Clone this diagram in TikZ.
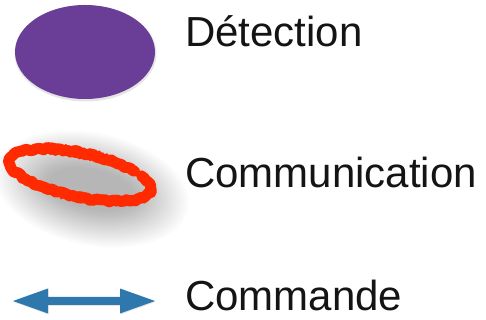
\documentclass[tikz,border=0pt]{standalone}
\usepackage{fontspec}
\setmainfont{Liberation Sans}
\usetikzlibrary{decorations.pathmorphing}
\definecolor{purp}{HTML}{6A3E96}
\definecolor{redink}{HTML}{FF2A00}
\definecolor{arrowblue}{HTML}{2E78AE}
\begin{document}
\begin{tikzpicture}[x=1pt,y=1pt,
  legendtext/.style={anchor=base west, inner sep=0pt, text depth=0pt, font=\fontsize{42}{48}\selectfont, text=black!92},
  redstroke/.style={redink, line join=round, line cap=round, decorate}]
\fill[white] (0,0) rectangle (486,320);
\useasboundingbox (0,0) rectangle (486,320);
\pgfmathsetseed{7}
% soft shadow behind communication ellipse
\begin{scope}[shift={(92,131)}, rotate=-12]
  \foreach \k in {0,...,18}{
    \fill[black, opacity=0.014] (0,0) ellipse[x radius={98-3*\k}, y radius={56-2*\k}];
  }
\end{scope}
% communication ellipse (rough red stroke with a gap)
\begin{scope}[shift={(80,145)}, rotate=-12]
  \draw[redstroke, line width=11, decoration={random steps, segment length=2.5pt, amplitude=1.2pt}]
    (43:72 and 22) arc[start angle=43, end angle=393, x radius=72, y radius=22];
  \draw[redstroke, line width=2.2, decoration={random steps, segment length=1.5pt, amplitude=2.5pt}]
    (43:72 and 25) arc[start angle=43, end angle=393, x radius=72, y radius=25];
  \draw[redstroke, line width=2.2, decoration={random steps, segment length=1.5pt, amplitude=2.5pt}]
    (43:72 and 19) arc[start angle=43, end angle=393, x radius=72, y radius=19];
\end{scope}
% detection ellipse
\fill[black, opacity=0.10] (85.5,266.5) ellipse[x radius=71, y radius=48];
\fill[purp] (85,268) ellipse[x radius=70, y radius=47];
% command arrow
\fill[black, opacity=0.10] (13.5,18) -- (48.5,30.5) -- (48.5,22) -- (120.5,22) -- (120.5,30.5) -- (155.5,18) -- (120.5,5.5) -- (120.5,14) -- (48.5,14) -- (48.5,5.5) -- cycle;
\fill[arrowblue] (13,19) -- (48,31.5) -- (48,23) -- (120,23) -- (120,31.5) -- (155,19) -- (120,6.5) -- (120,15) -- (48,15) -- (48,6.5) -- cycle;
% labels
\node[legendtext] (det) at (185,273) {Détection};
\node[legendtext] (com) at (185,132) {Communication};
\node[legendtext] (cmd) at (185,9) {Commande};
\end{tikzpicture}
\end{document}
